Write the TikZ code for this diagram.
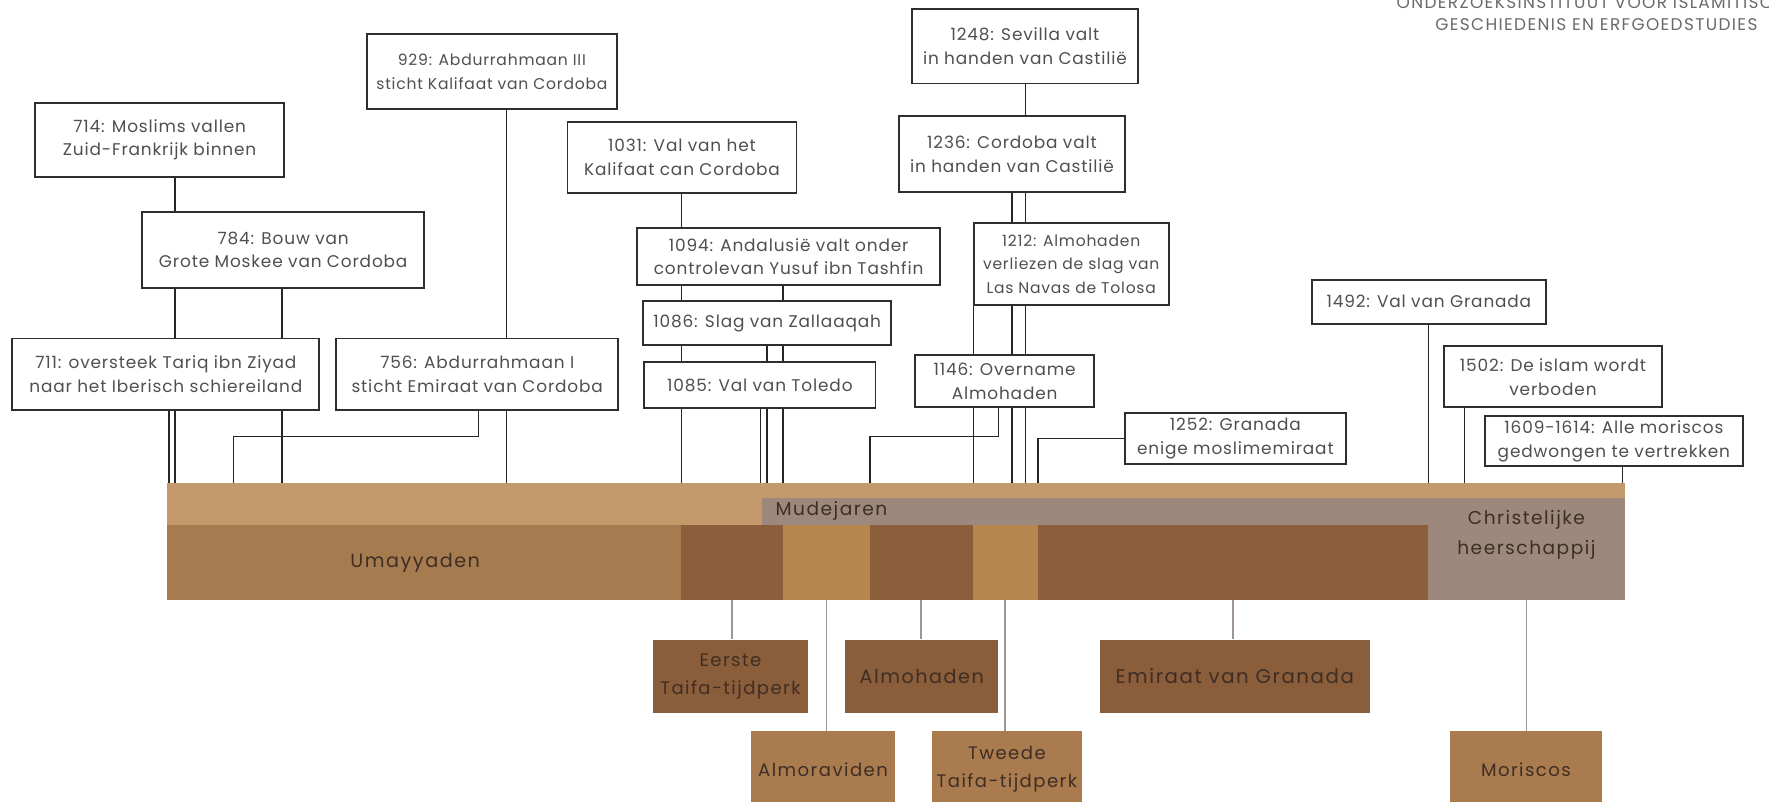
\documentclass[tikz,border=0pt]{standalone}
\usepackage{fontspec}
\setmainfont{Poppins}[LetterSpace=8]
\newfontfamily\evfam{Poppins}[LetterSpace=5]
\pgfdeclarelayer{lines}
\pgfdeclarelayer{bgwhite}
\pgfsetlayers{bgwhite,lines,main}
\definecolor{boxline}{HTML}{2E2E2E}
\definecolor{evtext}{HTML}{4F4F4F}
\definecolor{linkcol}{HTML}{262626}
\definecolor{tantop}{HTML}{C49A6D}
\definecolor{umay}{HTML}{A67B50}
\definecolor{darkseg}{HTML}{8C5E3C}
\definecolor{lightseg}{HTML}{B7864F}
\definecolor{grayseg}{HTML}{9C887C}
\definecolor{boxdark}{HTML}{8A5D3B}
\definecolor{boxlight}{HTML}{A97B4E}
\definecolor{bartext}{HTML}{3E2E24}
\definecolor{stub}{HTML}{A0958F}
\definecolor{hdrtext}{HTML}{6A6A6A}
\newcommand\evbox[7][]{\node[ev,#1, minimum width={(#5-#3)*1pt}, minimum height={(#6-#4)*1pt}] (#2) at ({(#3+#5)/2},{(#4+#6)/2}) {#7};}
\newcommand\barseg[6]{\node[seg, fill=#6, minimum width={(#4-#2)*1pt}, minimum height={(#5-#3)*1pt}] (#1) at ({(#2+#4)/2},{(#3+#5)/2}) {};}
\newcommand\perbox[8][]{\node[pbox,#1, fill=#7, minimum width={(#5-#3)*1pt}, minimum height={(#6-#4)*1pt}] (#2) at ({(#3+#5)/2},{(#4+#6)/2}) {#8};}
\begin{document}
\begin{tikzpicture}[x=1pt,y=-1pt,
  ev/.style={draw=boxline, line width=1.7pt, fill=white, inner sep=0pt, align=center, text=evtext, font=\evfam\fontsize{15}{21}\selectfont},
  evsmall/.style={font=\evfam\fontsize{13.8}{21}\selectfont},
  seg/.style={inner sep=0pt, draw=none},
  pbox/.style={inner sep=0pt, draw=none, align=center, text=bartext, font=\fontsize{16}{25}\selectfont},
  pbig/.style={font=\fontsize{17.5}{25}\selectfont},
  conn/.style={draw=linkcol, line width=1.4pt},
  stubline/.style={draw=stub, line width=1.3pt}]
\useasboundingbox (0,0) rectangle (1568,710);
\clip (0,0) rectangle (1568,710);
\begin{pgfonlayer}{bgwhite}
\fill[white] (0,0) rectangle (1568,710);
\end{pgfonlayer}

% header
\node[align=center, text=hdrtext, font=\fontsize{15}{20}\selectfont] (hdr) at (1415,12) {ONDERZOEKSINSTITUUT VOOR ISLAMITISCHE\\GESCHIEDENIS EN ERFGOEDSTUDIES};

% timeline bar
\barseg{bar}{148}{428}{1440}{532}{tantop}
\barseg{mudej}{675}{441}{1440}{532}{grayseg}
\barseg{sUmay}{148}{465}{604}{532}{umay}
\barseg{sEerste}{604}{465}{694}{532}{darkseg}
\barseg{sAlmor}{694}{465}{771}{532}{lightseg}
\barseg{sAlmoh}{771}{465}{862}{532}{darkseg}
\barseg{sTweede}{862}{465}{920}{532}{lightseg}
\barseg{sEmir}{920}{465}{1266}{532}{darkseg}
\barseg{sChrist}{1266}{465}{1440}{532}{grayseg}
\node[text=bartext, font=\fontsize{17}{24}\selectfont] (tUmay) at ([xshift=-8pt]sUmay.center) {Umayyaden};
\node[anchor=west, text=bartext, font=\fontsize{16.5}{22}\selectfont] (tMudej) at (684,453) {Mudejaren};
\node[align=center, text=bartext, font=\fontsize{16.5}{26}\selectfont] (tChrist) at (1353,474) {Christelijke\\heerschappij};

% period boxes below
\perbox{pEerste}{579}{567}{716}{632}{boxdark}{Eerste\\Taifa-tijdperk}
\perbox[font=\fontsize{17}{25}\selectfont]{pAlmoh}{749}{567}{885}{632}{boxdark}{Almohaden}
\perbox[pbig]{pEmir}{975}{567}{1214}{632}{boxdark}{Emiraat van Granada}
\perbox{pAlmor}{666}{648}{793}{716}{boxlight}{Almoraviden}
\perbox{pTweede}{826}{648}{959}{716}{boxlight}{Tweede\\Taifa-tijdperk}
\perbox{pMoris}{1285}{648}{1420}{716}{boxlight}{Moriscos}

% event boxes
\evbox{n714}{31}{91}{252}{157}{714: Moslims vallen\\Zuid-Frankrijk binnen}
\evbox[evsmall]{n929}{325}{30}{547}{97}{929: Abdurrahmaan III\\sticht Kalifaat van Cordoba}
\evbox{n784}{126}{188}{376}{255}{784: Bouw van\\Grote Moskee van Cordoba}
\evbox{n711}{11}{300}{283}{363}{711: oversteek Tariq ibn Ziyad\\naar het Iberisch schiereiland}
\evbox{n756}{298}{300}{548}{363}{756: Abdurrahmaan I\\sticht Emiraat van Cordoba}
\evbox{n1031}{503}{108}{706}{171}{1031: Val van het\\Kalifaat can Cordoba}
\evbox{n1094}{565}{202}{833}{253}{1094: Andalusië valt onder\\controlevan Yusuf ibn Tashfin}
\evbox{n1086}{570}{267}{790}{306}{1086: Slag van Zallaaqah}
\evbox{n1085}{571}{321}{776}{362}{1085: Val van Toledo}
\evbox{n1248}{808}{8}{1009}{74}{1248: Sevilla valt\\in handen van Castilië}
\evbox{n1236}{797}{103}{997}{170}{1236: Cordoba valt\\in handen van Castilië}
\evbox[evsmall]{n1212}{863}{198}{1036}{270}{1212: Almohaden\\verliezen de slag van\\Las Navas de Tolosa}
\evbox{n1146}{811}{315}{970}{361}{1146: Overname\\Almohaden}
\evbox{n1252}{997}{366}{1193}{411}{1252: Granada\\enige moslimemiraat}
\evbox{n1492}{1163}{248}{1370}{287}{1492: Val van Granada}
\evbox{n1502}{1280}{307}{1473}{361}{1502: De islam wordt\\verboden}
\evbox{n1609}{1316}{369}{1545}{413}{1609-1614: Alle moriscos\\gedwongen te vertrekken}

\begin{pgfonlayer}{lines}
% event connectors to the bar
\draw[conn] (n711.south -| 150,0) -- (bar.north -| 150,0);
\draw[conn] (n714.south -| 155,0) -- (bar.north -| 155,0);
\draw[conn] (n784.south -| 250,0) -- (bar.north -| 250,0);
\draw[conn] (n756.south -| 424,0) -- (424,387) -- (207,387) -- (bar.north -| 207,0);
\draw[conn] (n929.south -| 449,0) -- (bar.north -| 449,0);
\draw[conn] (n1031.south -| 604,0) -- (bar.north -| 604,0);
\draw[conn] (n1085.south -| 674,0) -- (bar.north -| 674,0);
\draw[conn] (n1086.south -| 680,0) -- (bar.north -| 680,0);
\draw[conn] (n1094.south -| 694,0) -- (bar.north -| 694,0);
\draw[conn] (n1146.south -| 885,0) -- (885,387) -- (771,387) -- (bar.north -| 771,0);
\draw[conn] (n1212.south -| 863,0) -- (bar.north -| 863,0);
\draw[conn] (n1236.south -| 897,0) -- (bar.north -| 897,0);
\draw[conn] (n1248.south -| 909,0) -- (bar.north -| 909,0);
\draw[conn] (n1252.west) -- (n1252.west -| 920,0) -- (bar.north -| 920,0);
\draw[conn] (n1492.south -| 1266,0) -- (bar.north -| 1266,0);
\draw[conn] (n1502.south -| 1298,0) -- (bar.north -| 1298,0);
\draw[conn] (n1609.south -| 1438,0) -- (bar.north -| 1438,0);
% period connectors
\draw[stubline] (sEerste.south) -- (pEerste.north -| sEerste.south);
\draw[stubline] (sAlmor.south) -- (pAlmor.north -| sAlmor.south);
\draw[stubline] (sAlmoh.south) -- (pAlmoh.north -| sAlmoh.south);
\draw[stubline] (sTweede.south) -- (pTweede.north -| sTweede.south);
\draw[stubline] (sEmir.south) -- (pEmir.north -| sEmir.south);
\draw[stubline] (sChrist.south) -- (pMoris.north -| sChrist.south);
\end{pgfonlayer}
\end{tikzpicture}
\end{document}
